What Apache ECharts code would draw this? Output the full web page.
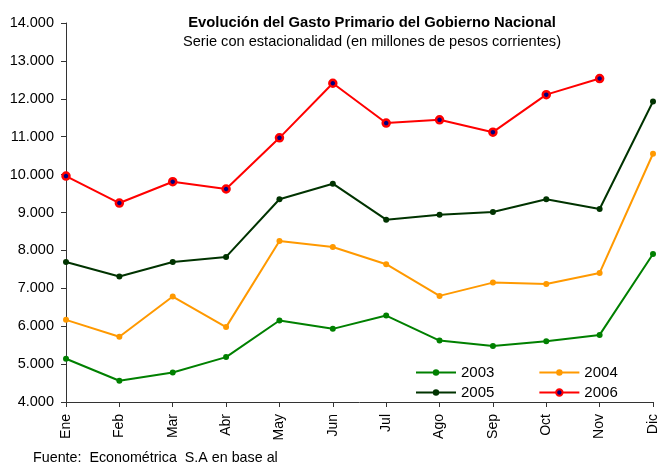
<!DOCTYPE html>
<html lang="es">
<head>
    <meta charset="UTF-8">
    <script src="https://cdn.jsdelivr.net/npm/echarts@6/dist/echarts.min.js"></script>
    <style>
        body { margin: 0; background: #fff; }
    </style>
</head>
<body>
    <div id="main" style="width: 660px; height: 466px;"></div>
    <script>
        var months = ['Ene', 'Feb', 'Mar', 'Abr', 'May', 'Jun', 'Jul', 'Ago', 'Sep', 'Oct', 'Nov', 'Dic'];
        var y2003 = [5140, 4560, 4780, 5185, 6150, 5930, 6280, 5620, 5475, 5605, 5770, 7906];
        var y2004 = [6168, 5720, 6782, 5976, 8250, 8090, 7635, 6800, 7150, 7116, 7406, 10550];
        var y2005 = [7696, 7310, 7696, 7828, 9350, 9760, 8810, 8940, 9013, 9350, 9092, 11930];
        var y2006 = [9962, 9250, 9812, 9620, 10970, 12410, 11360, 11445, 11120, 12110, 12535, null];

        var font = 'Liberation Sans, Arial, sans-serif';

        function line(name, data, color, dot) {
            return {
                name: name,
                type: 'line',
                data: data,
                symbol: 'circle',
                symbolSize: dot ? 7 : 6,
                showSymbol: true,
                animation: false,
                lineStyle: { color: color, width: 2 },
                itemStyle: dot
                    ? { color: dot, borderColor: color, borderWidth: 2.5 }
                    : { color: color, borderWidth: 0 }
            };
        }

        var chart = echarts.init(document.getElementById('main'));
        chart.setOption({
            backgroundColor: '#fff',
            textStyle: { fontFamily: font },
            title: [{
                text: 'Evolución del Gasto Primario del Gobierno Nacional',
                subtext: 'Serie con estacionalidad (en millones de pesos corrientes)',
                left: 372,
                textAlign: 'center',
                top: 15,
                padding: 0,
                itemGap: 4,
                textStyle: { fontSize: 14.8, fontWeight: 'bold', color: '#000', fontFamily: font },
                subtextStyle: { fontSize: 14.6, color: '#000', fontFamily: font }
            }, {
                text: 'Fuente:  Econométrica  S.A en base al',
                left: 33,
                top: 451,
                padding: 0,
                textStyle: { fontSize: 14.3, fontWeight: 'normal', color: '#000', fontFamily: font }
            }],
            legend: [{
                data: ['2003', '2004'],
                left: 415,
                top: 365,
                padding: 0,
                itemWidth: 40,
                itemHeight: 8,
                itemGap: 44,
                textStyle: { fontSize: 15, color: '#000', fontFamily: font }
            }, {
                data: ['2005', '2006'],
                left: 415,
                top: 385,
                padding: 0,
                itemWidth: 40,
                itemHeight: 8,
                itemGap: 44,
                textStyle: { fontSize: 15, color: '#000', fontFamily: font }
            }],
            grid: { left: 66, right: 5, top: 23, bottom: 64, containLabel: false },
            xAxis: {
                type: 'category',
                data: months,
                boundaryGap: false,
                axisLine: { lineStyle: { color: '#333', width: 1 } },
                axisTick: { alignWithLabel: true, length: 5, lineStyle: { color: '#333' } },
                axisLabel: { rotate: 90, fontSize: 14, color: '#000', margin: 12, fontFamily: font }
            },
            yAxis: {
                type: 'value',
                min: 4000,
                max: 14000,
                interval: 1000,
                splitLine: { show: false },
                axisLine: { show: true, lineStyle: { color: '#333', width: 1 } },
                axisTick: { show: true, length: 5, lineStyle: { color: '#333' } },
                axisLabel: {
                    fontSize: 14.5,
                    color: '#000',
                    margin: 12,
                    fontFamily: font,
                    formatter: function (v) { return (v / 1000) + '.000'; }
                }
            },
            series: [
                line('2003', y2003, '#008000'),
                line('2004', y2004, '#FF9900'),
                line('2005', y2005, '#003300'),
                line('2006', y2006, '#FF0000', '#000080')
            ]
        });
    </script>
</body>
</html>
